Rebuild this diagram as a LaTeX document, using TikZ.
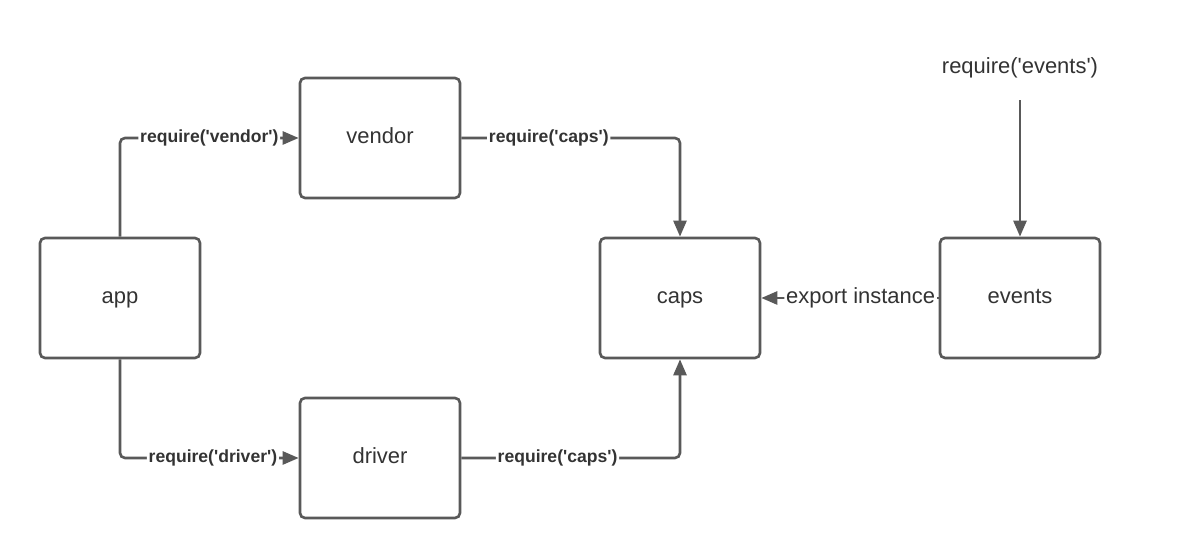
\documentclass[tikz,border=0pt]{standalone}
\usepackage{fontspec}
\setmainfont{Liberation Sans}
\usepackage{xcolor}
\usepackage{tikz}
\usetikzlibrary{positioning,arrows.meta}

\definecolor{linegray}{HTML}{595959}
\definecolor{textgray}{HTML}{333333}
\newcommand{\sq}{\textquotesingle}

\begin{document}
\begin{tikzpicture}[
    box/.style={draw=linegray,line width=1.5pt,rounded corners=0.1cm,
      minimum width=3.2cm,minimum height=2.4cm,text=textgray,
      text height=1.6ex,text depth=0.45ex,
      font=\fontsize{12.5}{15}\selectfont},
    arr/.style={draw=linegray,line width=1.5pt,rounded corners=0.1cm,
      -{Triangle[length=0.32cm,width=0.26cm]}},
    lbl/.style={fill=white,inner sep=1pt,text=textgray,
      font=\fontsize{10}{12}\selectfont\bfseries},
    plain/.style={fill=white,inner sep=1pt,text=textgray,
      font=\fontsize{12.5}{15}\selectfont}]
  \useasboundingbox (0,0) rectangle (23.6,11.18);
  % modules
  \node[box] (app) at (2.4,5.22) {app};
  \node[box] (vendor) at (7.6,8.42) {vendor};
  \node[box] (driver) at (7.6,2.02) {driver};
  \node[box] (caps) at (13.6,5.22) {caps};
  \node[box] (events) at (20.4,5.22) {events};
  \node[plain] (reqev) at (20.4,9.82) {require(\sq events\sq)};
  % requires
  \draw[arr] (app.north) |- node[lbl,pos=0.75] {require(\sq vendor\sq)} (vendor.west);
  \draw[arr] (app.south) |- node[lbl,pos=0.76] {require(\sq driver\sq)} (driver.west);
  \draw[arr] (vendor.east) -| node[lbl,pos=0.2] {require(\sq caps\sq)} (caps.north);
  \draw[arr] (driver.east) -| node[lbl,pos=0.22] {require(\sq caps\sq)} (caps.south);
  \draw[arr] (events.west) -- node[plain,pos=0.44] {export instance} (caps.east);
  \draw[arr] ([yshift=-0.4cm]reqev.south) -- (events.north);
\end{tikzpicture}
\end{document}
